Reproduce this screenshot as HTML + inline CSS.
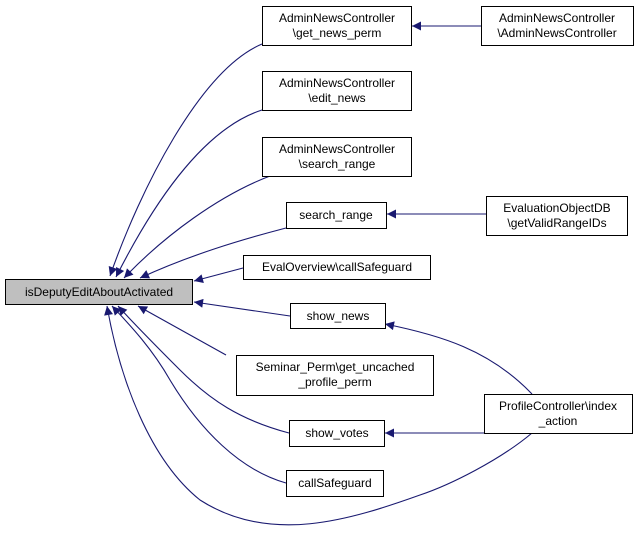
<!DOCTYPE html>
<html><head><meta charset="utf-8"><style>
body{margin:0;background:#fff}
svg{display:block}
text{font-family:"Liberation Sans",sans-serif;font-size:12px;fill:#000}
</style></head><body>
<svg width="640" height="541" viewBox="0 0 640 541" xmlns="http://www.w3.org/2000/svg">
<defs><marker id="a" viewBox="0 0 10 10" refX="10" refY="5" markerWidth="11" markerHeight="9" markerUnits="userSpaceOnUse" orient="auto"><path d="M0,0 L10,5 L0,10 z" fill="#191970"/></marker></defs>
<g fill="none" stroke="#191970" stroke-width="1.1" marker-end="url(#a)">
<path d="M262,44 C200,70 140,190 110,276"/>
<path d="M262,110 C200,130 150,210 116,277"/>
<path d="M270,176 C220,195 165,235 124,278"/>
<path d="M286,228 C240,240 190,255 140,278"/>
<path d="M243,268 L194,281"/>
<path d="M290,316 L194,302"/>
<path d="M226,355 L138,306"/>
<path d="M289,433 C240,420 210,400 180,370 C155,345 135,325 118,306"/>
<path d="M286,483 C240,470 200,430 170,380 C150,345 125,320 112,306"/>
<path d="M532,433 C500,460 450,485 420,495 C350,520 270,545 200,500 C150,460 120,380 107,306"/>
<path d="M484,26 L412,26"/>
<path d="M486,214 L387,214"/>
<path d="M484,433 L385,433"/>
<path d="M532,394 C490,350 440,335 385,324"/>
</g>
<g stroke="#000" stroke-width="1" fill="#fff">
<rect x="5.5" y="279.5" width="187" height="25" fill="#bfbfbf"/>
<rect x="262.5" y="6.5" width="149" height="39"/>
<rect x="262.5" y="71.5" width="149" height="39"/>
<rect x="262.5" y="137.5" width="149" height="39"/>
<rect x="286.5" y="202.5" width="100" height="26"/>
<rect x="243.5" y="255.5" width="187" height="24"/>
<rect x="290.5" y="303.5" width="95" height="25"/>
<rect x="236.5" y="355.5" width="197" height="40"/>
<rect x="289.5" y="420.5" width="95" height="26"/>
<rect x="286.5" y="470.5" width="97" height="26"/>
<rect x="481.5" y="6.5" width="152" height="39"/>
<rect x="486.5" y="196.5" width="141" height="39"/>
<rect x="484.5" y="394.5" width="148" height="39"/>
</g>
<g text-anchor="middle">
<text x="99" y="296">isDeputyEditAboutActivated</text>
<text x="337" y="22">AdminNewsController</text><text x="337" y="37">\get_news_perm</text>
<text x="337" y="87">AdminNewsController</text><text x="337" y="102">\edit_news</text>
<text x="337" y="153">AdminNewsController</text><text x="337" y="168">\search_range</text>
<text x="336" y="219">search_range</text>
<text x="337" y="271">EvalOverview\callSafeguard</text>
<text x="338" y="320">show_news</text>
<text x="335" y="371">Seminar_Perm\get_uncached</text><text x="335" y="386">_profile_perm</text>
<text x="337" y="437">show_votes</text>
<text x="335" y="487">callSafeguard</text>
<text x="557" y="22">AdminNewsController</text><text x="557" y="37">\AdminNewsController</text>
<text x="557" y="212">EvaluationObjectDB</text><text x="557" y="227">\getValidRangeIDs</text>
<text x="558" y="410">ProfileController\index</text><text x="558" y="425">_action</text>
</g>
</svg>
</body></html>
